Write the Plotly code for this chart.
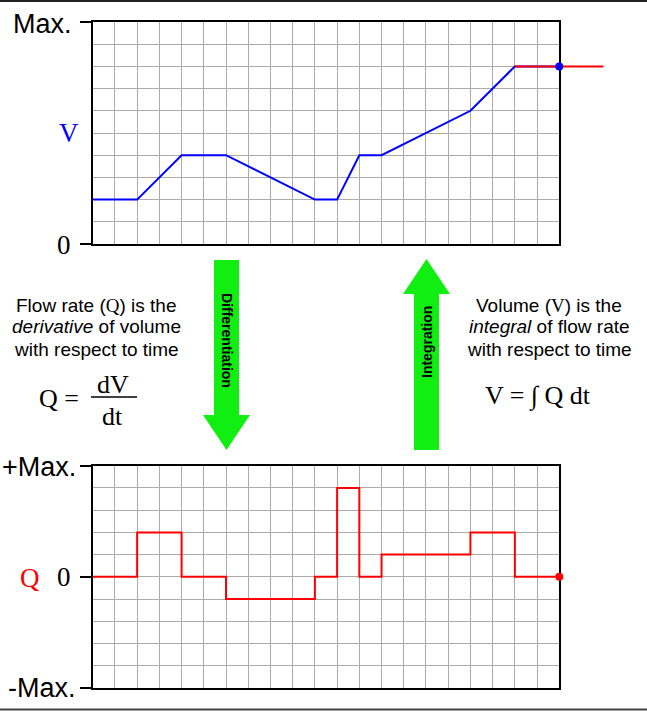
import plotly.graph_objects as go

# ---------------- data (grid units) ----------------
t_volume = [0, 2, 4, 6, 10, 11, 12, 13, 17, 19, 21]
volume = [2, 2, 4, 4, 2, 2, 4, 4, 6, 8, 8]
t_volume_ext = [19, 23]
volume_ext = [8, 8]
t_flow = [0, 2, 4, 6, 10, 11, 12, 13, 17, 19, 21]
flow = [0, 2, 0, -1, 0, 4, 0, 1, 2, 0, 0]
v_ticks = [0, 10]
v_ticklabels = ["0", "Max."]
q_ticks = [-5, 0, 5]
q_ticklabels = ["-Max.", "0", "+Max."]

W, H = 647, 713
def px(x):
    return x / W
def py(y):
    return 1 - y / H

SANS = "Liberation Sans, Arial, sans-serif"
SERIF = "Liberation Serif, Times New Roman, serif"
GRID = "#ababab"
GREEN = "#11ee11"

x_left, x_right, x_ext = 92.7, 559.3, 603.7
top_t, top_b = 22.0, 244.0
bot_t, bot_b = 465.7, 688.0

fig = go.Figure()

# top chart: volume
fig.add_trace(go.Scatter(x=t_volume, y=volume, mode="lines",
                         line=dict(color="#0000ff", width=2),
                         xaxis="x", yaxis="y", hoverinfo="skip"))
# extension + end dot on a wider overlay subplot
fig.add_trace(go.Scatter(x=t_volume_ext, y=volume_ext, mode="lines",
                         line=dict(color="#ff0000", width=2),
                         xaxis="x3", yaxis="y3", hoverinfo="skip"))
fig.add_trace(go.Scatter(x=[t_volume[-1]], y=[volume[-1]], mode="markers",
                         marker=dict(color="#0000ff", size=8), cliponaxis=False,
                         xaxis="x3", yaxis="y3", hoverinfo="skip"))
# bottom chart: flow
fig.add_trace(go.Scatter(x=t_flow, y=flow, mode="lines", line_shape="hv",
                         line=dict(color="#ff0000", width=2),
                         xaxis="x2", yaxis="y2", hoverinfo="skip"))
fig.add_trace(go.Scatter(x=[t_flow[-1]], y=[flow[-1]], mode="markers",
                         marker=dict(color="#ff0000", size=8), cliponaxis=False,
                         xaxis="x2", yaxis="y2", hoverinfo="skip"))

xcommon = dict(range=[0, 21], dtick=1, tick0=0, showgrid=True, gridcolor=GRID, gridwidth=1,
               showticklabels=False, ticks="", zeroline=False, showline=True,
               linecolor="black", linewidth=2, mirror=True, fixedrange=True,
               domain=[px(x_left), px(x_right)], layer="below traces")

fig.update_layout(
    width=W, height=H, margin=dict(l=0, r=0, t=0, b=0), autosize=False,
    paper_bgcolor="white", plot_bgcolor="rgba(0,0,0,0)", showlegend=False,
    xaxis=dict(**xcommon, anchor="y"),
    yaxis=dict(range=[0, 10], domain=[py(top_b), py(top_t)], anchor="x",
               tickmode="array", tickvals=v_ticks, ticktext=v_ticklabels,
               showticklabels=False, ticks="outside", ticklen=11, tickwidth=2,
               tickcolor="black", showgrid=False, zeroline=False,
               minor=dict(dtick=1, tick0=0, showgrid=True, gridcolor=GRID, gridwidth=1, ticks=""),
               showline=True, linecolor="black", linewidth=2, mirror=True,
               fixedrange=True, layer="below traces"),
    xaxis2=dict(**xcommon, anchor="y2"),
    yaxis2=dict(range=[-5, 5], domain=[py(bot_b), py(bot_t)], anchor="x2",
                tickmode="array", tickvals=q_ticks, ticktext=q_ticklabels,
                showticklabels=False, ticks="outside", ticklen=11, tickwidth=2,
                tickcolor="black", showgrid=False, zeroline=False,
                minor=dict(dtick=1, tick0=-5, showgrid=True, gridcolor=GRID, gridwidth=1, ticks=""),
                showline=True, linecolor="black", linewidth=2, mirror=True,
                fixedrange=True, layer="below traces"),
    xaxis3=dict(range=[0, 23], domain=[px(x_left), px(x_ext)], anchor="y3",
                visible=False, fixedrange=True),
    yaxis3=dict(range=[0, 10], domain=[py(top_b), py(top_t)], anchor="x3",
                visible=False, fixedrange=True),
)

ann = []
def text(x, y, s, size, family=SANS, color="black", xanchor="center", angle=0):
    ann.append(dict(x=px(x), y=py(y), xref="paper", yref="paper", text=s,
                    showarrow=False, xanchor=xanchor, yanchor="middle",
                    textangle=angle, font=dict(size=size, family=family, color=color)))

# axis labels (tick text placed beside the tick marks)
text(74, 24, v_ticklabels[1], 27, xanchor="right")
text(73, 245, v_ticklabels[0], 27, family=SERIF, xanchor="right")
text(69, 133, "V", 27, family=SERIF, color="#0000ff")
text(78, 467, q_ticklabels[2], 27, xanchor="right")
text(73, 577, q_ticklabels[1], 27, family=SERIF, xanchor="right")
text(78, 688, q_ticklabels[0], 27, xanchor="right")
text(30, 578, "Q", 27, family=SERIF, color="#ff0000")

# explanatory text
qs = '<span style="font-family:Liberation Serif">Q</span>'
vs = '<span style="font-family:Liberation Serif">V</span>'
text(96, 305, f"Flow rate ({qs}) is the", 19)
text(96, 327, "<i>derivative</i> of volume", 19)
text(96, 349, "with respect to time", 19)
text(549, 305, f"Volume ({vs}) is the", 19)
text(549, 327, "<i>integral</i> of flow rate", 19)
text(549, 349, "with respect to time", 19)

text(59, 398, "Q =", 26, family=SERIF)
text(113, 384, "dV", 26, family=SERIF)
text(113, 416, "dt", 26, family=SERIF)
text(538, 396, "V = ∫ Q dt", 26, family=SERIF)

text(227, 340, "<b>Differentiation</b>", 14, angle=90)
text(427, 342, "<b>Integration</b>", 14, angle=-90)
fig.update_layout(annotations=ann)

def path(pts):
    return "M " + " L ".join(f"{px(x):.5f},{py(y):.5f}" for x, y in pts) + " Z"

shapes = [
    dict(type="path", xref="paper", yref="paper", line=dict(width=0), fillcolor=GREEN,
         path=path([(214, 260), (239, 260), (239, 415), (250, 415), (226.5, 450), (203, 415), (214, 415)])),
    dict(type="path", xref="paper", yref="paper", line=dict(width=0), fillcolor=GREEN,
         path=path([(414, 450), (439, 450), (439, 294), (450, 294), (426.5, 259), (403, 294), (414, 294)])),
    dict(type="line", xref="paper", yref="paper", x0=px(91), x1=px(137), y0=py(397), y1=py(397),
         line=dict(color="black", width=1.5)),
    dict(type="line", xref="paper", yref="paper", x0=0, x1=1, y0=py(1), y1=py(1),
         line=dict(color="#222", width=2)),
    dict(type="line", xref="paper", yref="paper", x0=0, x1=1, y0=py(709.5), y1=py(709.5),
         line=dict(color="#444", width=2)),
]
fig.update_layout(shapes=shapes)

fig.write_html("out.html", config={"displayModeBar": False},
               post_script="document.body.style.margin='0';document.body.style.overflow='hidden';")
